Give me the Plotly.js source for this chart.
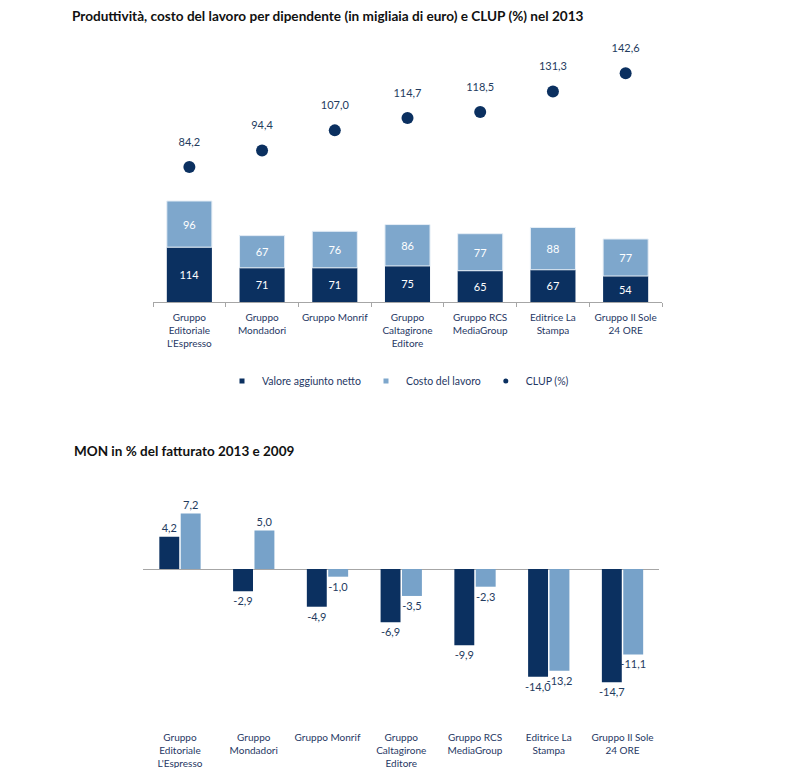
<!DOCTYPE html>
<html>
<head>
<meta charset="utf-8">
<script src="https://cdn.plot.ly/plotly-3.0.1.min.js"></script>
<style>
  html, body { margin: 0; padding: 0; background: #ffffff; }
  #chart { width: 805px; height: 768px; }
</style>
</head>
<body>
<div id="chart"></div>
<script>
// ---- data ----
const categories = [
  "Gruppo<br>Editoriale<br>L'Espresso",
  "Gruppo<br>Mondadori",
  "Gruppo Monrif",
  "Gruppo<br>Caltagirone<br>Editore",
  "Gruppo RCS<br>MediaGroup",
  "Editrice La<br>Stampa",
  "Gruppo Il Sole<br>24 ORE"
];
const valoreAggiunto = [114, 71, 71, 75, 65, 67, 54];
const costoLavoro = [96, 67, 76, 86, 77, 88, 77];
const clup = [84.2, 94.4, 107.0, 114.7, 118.5, 131.3, 142.6];
const mon2013 = [4.2, -2.9, -4.9, -6.9, -9.9, -14.0, -14.7];
const mon2009 = [7.2, 5.0, -1.0, -3.5, -2.3, -13.2, -11.1];

const title1 = "Produttività, costo del lavoro per dipendente (in migliaia di euro) e CLUP (%) nel 2013";
const title2 = "MON in % del fatturato 2013 e 2009";

// ---- style ----
const DARK = '#0b3060';
const LIGHT = '#7ea7cc';
const LIGHT2 = '#77a2c9';
const TXT = '#243b5e';
const FONT = 'Lato, "Open Sans", sans-serif';
const W = 805, H = 768;
const fmt = v => v.toFixed(1).replace('.', ',');

const traces = [
  {
    type: 'bar', name: 'Valore aggiunto netto', x: categories, y: valoreAggiunto,
    xaxis: 'x', yaxis: 'y', width: 0.62, offset: -0.31,
    marker: { color: DARK },
    text: valoreAggiunto.map(String), textposition: 'inside', insidetextanchor: 'middle',
    textfont: { family: FONT, size: 11, color: '#ffffff' }, constraintext: 'none',
    showlegend: false, hoverinfo: 'skip'
  },
  {
    type: 'bar', name: 'Costo del lavoro', x: categories, y: costoLavoro, base: valoreAggiunto,
    xaxis: 'x', yaxis: 'y', width: 0.62, offset: -0.31,
    marker: { color: LIGHT, line: { color: '#e6eef6', width: 1 } },
    text: costoLavoro.map(String), textposition: 'inside', insidetextanchor: 'middle',
    textfont: { family: FONT, size: 11, color: '#ffffff' }, constraintext: 'none',
    showlegend: false, hoverinfo: 'skip'
  },
  {
    type: 'scatter', mode: 'markers', name: 'CLUP (%)', x: categories, y: clup,
    xaxis: 'x', yaxis: 'y3',
    marker: { color: DARK, size: 12 },
    showlegend: false, hoverinfo: 'skip', cliponaxis: false
  },
  {
    type: 'scatter', mode: 'markers+text', x: categories, y: clup,
    xaxis: 'x', yaxis: 'y3',
    marker: { color: 'rgba(0,0,0,0)', size: 28 },
    text: clup.map(fmt), textposition: 'top center',
    textfont: { family: FONT, size: 11, color: TXT },
    showlegend: false, hoverinfo: 'skip', cliponaxis: false
  },
  // legend entries
  {
    type: 'scatter', mode: 'markers', name: 'Valore aggiunto netto', x: [null], y: [null],
    xaxis: 'x', yaxis: 'y', marker: { color: DARK, symbol: 'square', size: 5 }, showlegend: true
  },
  {
    type: 'scatter', mode: 'markers', name: 'Costo del lavoro', x: [null], y: [null],
    xaxis: 'x', yaxis: 'y', marker: { color: LIGHT, symbol: 'square', size: 5 }, showlegend: true
  },
  {
    type: 'scatter', mode: 'markers', name: 'CLUP (%)', x: [null], y: [null],
    xaxis: 'x', yaxis: 'y', marker: { color: DARK, symbol: 'circle', size: 5 }, showlegend: true
  },
  // bottom chart
  {
    type: 'bar', name: '2013', x: categories, y: mon2013,
    xaxis: 'x2', yaxis: 'y2', width: 0.27, offset: -0.28,
    marker: { color: DARK },
    text: mon2013.map(fmt), textposition: 'outside', constraintext: 'none', cliponaxis: false,
    textfont: { family: FONT, size: 11, color: TXT },
    showlegend: false, hoverinfo: 'skip'
  },
  {
    type: 'bar', name: '2009', x: categories, y: mon2009,
    xaxis: 'x2', yaxis: 'y2', width: 0.27, offset: 0.01,
    marker: { color: LIGHT2 },
    text: mon2009.map(fmt), textposition: 'outside', constraintext: 'none', cliponaxis: false,
    textfont: { family: FONT, size: 11, color: TXT },
    showlegend: false, hoverinfo: 'skip'
  }
];

const px = v => v / W;
const py = v => 1 - v / H;

const tickFont = { family: FONT, size: 10, color: '#1f3864' };

const layout = {
  width: W, height: H,
  margin: { l: 0, r: 0, t: 0, b: 0, pad: 0 },
  paper_bgcolor: '#ffffff', plot_bgcolor: 'rgba(0,0,0,0)',
  separators: ',.',
  hovermode: false,
  barmode: 'group',
  font: { family: FONT, color: TXT },
  title: {
    text: '<b>' + title1 + '</b>',
    xref: 'paper', yref: 'container',
    x: px(72), xanchor: 'left', y: py(16), yanchor: 'middle',
    font: { family: FONT, size: 13.6, color: '#111111' }
  },
  annotations: [
    {
      text: '<b>' + title2 + '</b>', xref: 'paper', yref: 'paper',
      x: px(72), xanchor: 'left', y: py(451), yanchor: 'middle', showarrow: false,
      font: { family: FONT, size: 13.5, color: '#111111' }
    }
  ],
  xaxis: {
    domain: [px(153), px(662)], anchor: 'y', type: 'category', range: [-0.5, 6.5],
    showline: true, linecolor: '#a6a6a6', linewidth: 1,
    ticks: 'outside', ticklen: 4, tickcolor: '#a6a6a6', tickson: 'boundaries',
    tickangle: 0, automargin: false, ticklabelstandoff: 6,
    showgrid: false, zeroline: false, tickfont: tickFont, fixedrange: true
  },
  yaxis: {
    domain: [py(302), py(50)], anchor: 'x', range: [0, 252 / 0.481],
    visible: false, showgrid: false, zeroline: false, fixedrange: true
  },
  yaxis3: {
    overlaying: 'y', anchor: 'x', range: [0, 252 / 1.604],
    visible: false, showgrid: false, zeroline: false, fixedrange: true
  },
  xaxis2: {
    domain: [px(143.1), px(659.4)], anchor: 'free', position: py(730),
    type: 'category', range: [-0.5, 6.5], tickangle: 0, automargin: false,
    showline: false, ticks: '', showgrid: false, zeroline: false,
    tickfont: tickFont, fixedrange: true
  },
  yaxis2: {
    domain: [py(705), py(470)], anchor: 'x2', range: [-(705 - 569) / 7.7, (569 - 470) / 7.7],
    showticklabels: false, showgrid: false, showline: false, ticks: '',
    zeroline: true, zerolinecolor: '#a6a6a6', zerolinewidth: 1, fixedrange: true
  },
  showlegend: true,
  legend: {
    orientation: 'h', x: px(222), xanchor: 'left', y: py(381), yanchor: 'middle',
    font: { family: FONT, size: 10.5, color: '#1f3864' },
    bgcolor: 'rgba(0,0,0,0)', borderwidth: 0, itemclick: false, itemdoubleclick: false
  }
};

Plotly.newPlot('chart', traces, layout, { displayModeBar: false, staticPlot: true });
</script>
</body>
</html>
